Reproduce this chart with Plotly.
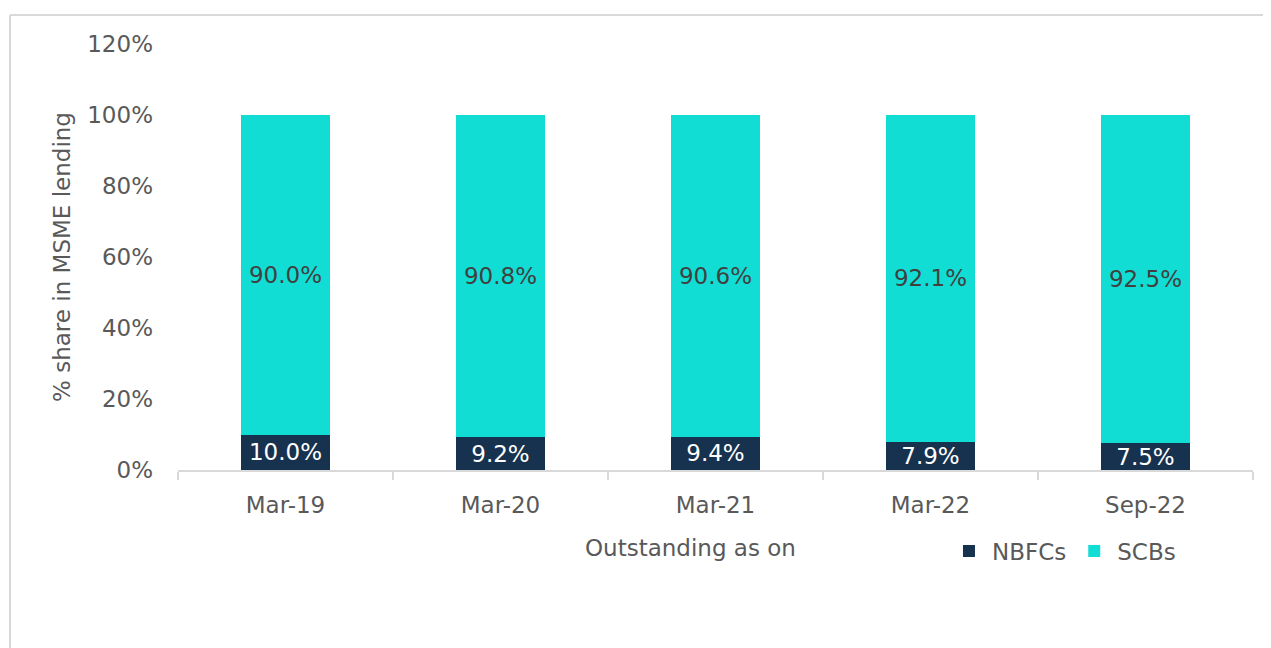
import plotly.graph_objects as go

categories = ["Mar-19", "Mar-20", "Mar-21", "Mar-22", "Sep-22"]
nbfcs = [10.0, 9.2, 9.4, 7.9, 7.5]
scbs = [90.0, 90.8, 90.6, 92.1, 92.5]
y_ticks = [0, 20, 40, 60, 80, 100, 120]

FONT = "DejaVu Sans"
GRAY = "#595959"
FS = 23

# the page body has an 8px margin; the figure is sized to fill the window
W, H = 1263, 640
L, R, T, B = 170, 18, 36, 178
PW, PH = W - L - R, H - T - B

fig = go.Figure()
fig.add_trace(go.Bar(
    x=categories, y=nbfcs, name="NBFCs",
    marker=dict(color="#17324f", line=dict(width=0)),
    text=[f"{v:.1f}%" for v in nbfcs], textposition="inside",
    insidetextanchor="middle", constraintext="none",
    textfont=dict(family=FONT, size=FS, color="white"),
    hoverinfo="skip",
))
fig.add_trace(go.Bar(
    x=categories, y=scbs, name="SCBs",
    marker=dict(color="#11ddd4", line=dict(width=0)),
    text=[f"{v:.1f}%" for v in scbs], textposition="inside",
    insidetextanchor="middle", constraintext="none",
    textfont=dict(family=FONT, size=FS, color="#404040"),
    hoverinfo="skip",
))

fig.update_layout(
    width=W, height=H,
    barmode="stack", bargap=0.59,
    plot_bgcolor="white", paper_bgcolor="white",
    margin=dict(l=L, r=R, t=T, b=B, autoexpand=False),
    font=dict(family=FONT, size=FS, color=GRAY),
    uniformtext=dict(minsize=FS, mode="show"),
    showlegend=True,
    legend=dict(orientation="h", x=0.7144, xanchor="left", y=-0.19, yanchor="middle",
                traceorder="normal", font=dict(family=FONT, size=FS, color=GRAY),
                itemwidth=36, bgcolor="rgba(0,0,0,0)"),
    xaxis=dict(
        showline=True, linecolor="#d9d9d9", linewidth=2,
        ticks="outside", tickson="boundaries", ticklen=8, tickcolor="#d9d9d9", tickwidth=2,
        ticklabelstandoff=13,
        tickfont=dict(family=FONT, size=FS, color=GRAY),
        showgrid=False,
    ),
    yaxis=dict(
        range=[0, 120], tickvals=y_ticks, ticktext=[f"{v}%" for v in y_ticks],
        showgrid=False, zeroline=False, showline=False,
        ticklabelstandoff=24,
        tickfont=dict(family=FONT, size=FS, color=GRAY),
        title=dict(text="% share in MSME lending", font=dict(family=FONT, size=FS, color=GRAY), standoff=10),
    ),
)

# x-axis title (offset left of the plot centre, as in the original)
fig.add_annotation(text="Outstanding as on", xref="paper", yref="paper",
                   x=(682 - L) / PW, y=-(540 - (H - B)) / PH,
                   xanchor="center", yanchor="middle", showarrow=False,
                   font=dict(family=FONT, size=FS, color=GRAY))

# outer frame (light gray border, top and left edges visible)
fx0 = (2 - L) / PW
fy0 = (H - B - 7) / PH
fig.add_shape(type="line", xref="paper", yref="paper",
              x0=fx0, x1=(W + 5 - L) / PW, y0=fy0, y1=fy0,
              line=dict(color="#d9d9d9", width=2), layer="below")
fig.add_shape(type="line", xref="paper", yref="paper",
              x0=fx0, x1=fx0, y0=fy0, y1=-(B + 5) / PH,
              line=dict(color="#d9d9d9", width=2), layer="below")

fig.write_html("out.html")
